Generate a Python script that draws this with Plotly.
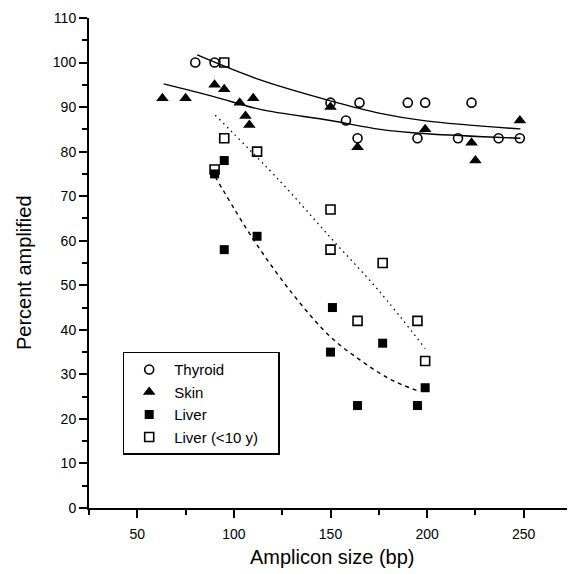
import plotly.graph_objects as go

# ---- data ----
thyroid_x = [80, 90, 150, 158, 164, 165, 190, 199, 195, 216, 223, 237, 248]
thyroid_y = [100, 100, 91, 87, 83, 91, 91, 91, 83, 83, 91, 83, 83]

skin_x = [63, 75, 90, 95, 103, 106, 108, 110, 150, 164, 199, 223, 225, 248]
skin_y = [92, 92, 95, 94, 91, 88, 86, 92, 90, 81, 85, 82, 78, 87]

liver_x = [90, 95, 95, 112, 151, 150, 164, 177, 195, 199]
liver_y = [75, 78, 58, 61, 45, 35, 23, 37, 23, 27]

liver10_x = [95, 95, 90, 112, 150, 150, 177, 164, 195, 199]
liver10_y = [100, 83, 76, 80, 67, 58, 55, 42, 42, 33]

# fitted curves
thyroid_fit_x = [81, 113.6, 150, 175.7, 199.3, 248.3]
thyroid_fit_y = [101.7, 96.1, 91.4, 88.6, 86.9, 85.1]

skin_fit_x = [63.6, 90, 113.6, 150, 175.7, 200, 248.3]
skin_fit_y = [95.2, 92.3, 89.5, 87.0, 85.0, 84.0, 83.0]

liver_fit_x = [90.3, 110.2, 130.9, 149.8, 165.4, 180.9, 196.4]
liver_fit_y = [74.4, 60.2, 47.8, 38.5, 33.2, 28.9, 26.1]

liver10_fit_x = [90.3, 124, 150.4, 174.8, 199]
liver10_fit_y = [88.2, 73.3, 60.5, 48.9, 35.8]

series_names = ["Thyroid", "Skin", "Liver", "Liver (<10 y)"]

x_ticks = [50, 100, 150, 200, 250]
y_ticks = [0, 10, 20, 30, 40, 50, 60, 70, 80, 90, 100, 110]

FONT = "Liberation Sans, Arial, Helvetica, sans-serif"
BLACK = "#000000"
PAD = "\u2003"  # invisible right padding inside the legend box

fig = go.Figure()

# curves (not in legend)
fig.add_trace(go.Scatter(x=thyroid_fit_x, y=thyroid_fit_y, mode="lines",
                         line=dict(color=BLACK, width=1.4, shape="spline"),
                         showlegend=False, hoverinfo="skip"))
fig.add_trace(go.Scatter(x=skin_fit_x, y=skin_fit_y, mode="lines",
                         line=dict(color=BLACK, width=1.4, shape="spline"),
                         showlegend=False, hoverinfo="skip"))
fig.add_trace(go.Scatter(x=liver_fit_x, y=liver_fit_y, mode="lines",
                         line=dict(color=BLACK, width=1.4, shape="spline", dash="4px,4px"),
                         showlegend=False, hoverinfo="skip"))
fig.add_trace(go.Scatter(x=liver10_fit_x, y=liver10_fit_y, mode="lines",
                         line=dict(color=BLACK, width=1.3, shape="spline", dash="1.5px,4px"),
                         showlegend=False, hoverinfo="skip"))

# points
fig.add_trace(go.Scatter(x=thyroid_x, y=thyroid_y, mode="markers", name=series_names[0],
                         marker=dict(symbol="circle-open", size=9, color=BLACK,
                                     line=dict(width=1.6, color=BLACK))))
fig.add_trace(go.Scatter(x=skin_x, y=skin_y, mode="markers", name=series_names[1],
                         marker=dict(symbol="triangle-up", size=11, color=BLACK,
                                     line=dict(width=0))))
fig.add_trace(go.Scatter(x=liver_x, y=liver_y, mode="markers", name=series_names[2],
                         marker=dict(symbol="square", size=9, color=BLACK,
                                     line=dict(width=0))))
fig.add_trace(go.Scatter(x=liver10_x, y=liver10_y, mode="markers", name=series_names[3] + PAD,
                         marker=dict(symbol="square-open", size=9, color=BLACK,
                                     line=dict(width=1.6, color=BLACK))))

fig.update_layout(
    width=567, height=566,
    margin=dict(l=81, r=3, t=10, b=66),
    paper_bgcolor="white", plot_bgcolor="white",
    font=dict(family=FONT, color=BLACK, size=14),
    legend=dict(
        x=(122.7 - 89) / 483, y=(508 - 351.7) / 490,
        xanchor="left", yanchor="top",
        bordercolor=BLACK, borderwidth=1.5, bgcolor="white",
        font=dict(family=FONT, size=15, color=BLACK),
        itemwidth=40,
    ),
    xaxis=dict(
        range=[25, 275], tickmode="array", tickvals=x_ticks,
        ticktext=[str(v) for v in x_ticks],
        showgrid=False, zeroline=False,
        showline=True, linecolor=BLACK, linewidth=2,
        ticks="outside", ticklen=8, tickwidth=2, tickcolor=BLACK,
        ticklabelstandoff=4,
        minor=dict(tickmode="linear", tick0=25, dtick=25, ticks="outside",
                   ticklen=5, tickwidth=2, tickcolor=BLACK, showgrid=False),
        tickfont=dict(family=FONT, size=14, color=BLACK),
    ),
    yaxis=dict(
        range=[0, 110], tickmode="array", tickvals=y_ticks,
        ticktext=[str(v) for v in y_ticks],
        showgrid=False, zeroline=False,
        showline=True, linecolor=BLACK, linewidth=2,
        ticks="outside", ticklen=8, tickwidth=2, tickcolor=BLACK,
        minor=dict(tickmode="linear", tick0=5, dtick=10, ticks="outside",
                   ticklen=5, tickwidth=2, tickcolor=BLACK, showgrid=False),
        tickfont=dict(family=FONT, size=14, color=BLACK),
    ),
    annotations=[
        dict(text="Amplicon size (bp)", xref="paper", yref="paper",
             x=(332 - 89) / 483, y=(508 - 557) / 490, xanchor="center", yanchor="middle",
             showarrow=False, font=dict(family=FONT, size=20, color=BLACK)),
        dict(text="Percent amplified", xref="paper", yref="paper",
             x=(24 - 89) / 483, y=(508 - 273) / 490, xanchor="center", yanchor="middle",
             textangle=-90, showarrow=False, font=dict(family=FONT, size=20, color=BLACK)),
    ],
)

fig.write_html("out.html")
